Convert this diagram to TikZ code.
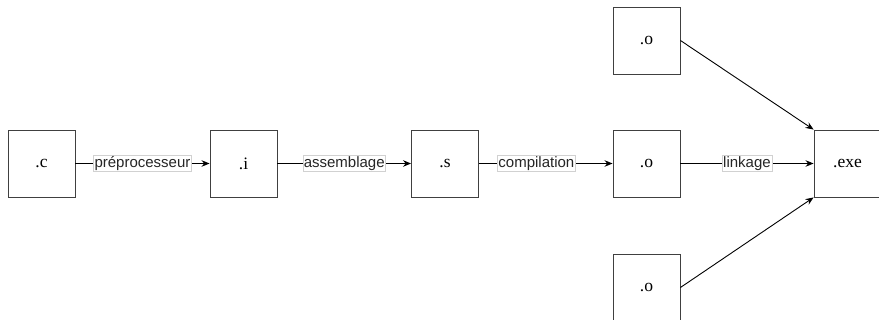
\documentclass[tikz,border=0pt]{standalone}
\usepackage{fontspec}
\setmainfont{Liberation Serif}
\newfontfamily\labelfont{Liberation Sans}
\usetikzlibrary{arrows.meta}
\begin{document}
\begin{tikzpicture}[x=1pt,y=-1pt,
  filebox/.style={draw=black!75,line width=0.9pt,fill=white,minimum width=67pt,minimum height=67pt,inner sep=0pt,font=\fontsize{17.5}{20}\selectfont},
  flow/.style={draw=black,line width=0.9pt,-{Stealth[length=8pt,width=6.5pt]}},
  steplabel/.style={draw=black!18,line width=0.5pt,fill=white,inner sep=1pt,font=\labelfont\fontsize{15}{17}\selectfont,text=black!85}]
\useasboundingbox (0,0) rectangle (879,320);
\node[filebox] (c) at (41.5,163.5) {.c};
\node[filebox] (i) at (243.5,163.5) {.i};
\node[filebox] (s) at (445,163.5) {.s};
\node[filebox] (o) at (646.5,163.5) {.o};
\node[filebox] (otop) at (646.5,40.5) {.o};
\node[filebox] (obot) at (646.5,287.5) {.o};
\node[filebox] (exe) at (847.5,163.5) {.exe};
\draw[flow] (c) -- node[steplabel] {préprocesseur} (i);
\draw[flow] (i) -- node[steplabel] {assemblage} (s);
\draw[flow] (s) -- node[steplabel,pos=0.43] {compilation} (o);
\draw[flow] (o) -- node[steplabel] {linkage} (exe);
\draw[flow] (otop.east) -- (exe.north west);
\draw[flow] (obot.east) -- (exe.south west);
\end{tikzpicture}
\end{document}
